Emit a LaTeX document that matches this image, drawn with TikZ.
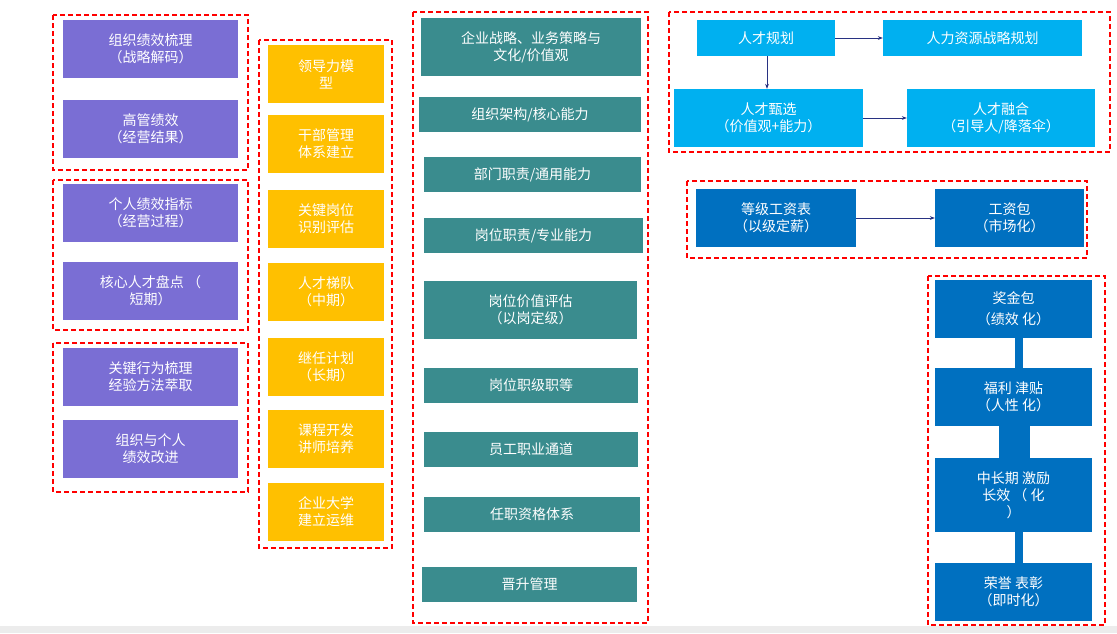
\documentclass[tikz,border=0pt]{standalone}
\usepackage{fontspec}
\setmainfont{Noto Sans CJK SC}
\usetikzlibrary{arrows.meta}
\definecolor{purp}{RGB}{122,110,212}
\definecolor{yell}{RGB}{255,192,0}
\definecolor{teal2}{RGB}{58,140,142}
\definecolor{cyan2}{RGB}{0,176,240}
\definecolor{blue2}{RGB}{0,112,192}
\definecolor{arr}{RGB}{40,50,130}
\tikzset{
  box/.style={inner sep=0pt, align=center, font=\fontsize{14}{17}\selectfont},
  pbox/.style={box, fill=purp, text=white},
  ybox/.style={box, fill=yell, text=white},
  tbox/.style={box, fill=teal2, text=white},
  cbox/.style={box, fill=cyan2, text=white},
  bbox/.style={box, fill=blue2, text=white},
  frame/.style={draw=red, dashed, line width=1.6pt, dash pattern=on 5pt off 3pt},
  link/.style={-{Stealth[length=5pt]}, arr, line width=0.6pt}
}
% x0,y0,x1,y1 in pixels
\newcommand{\bx}[6]{\node[#1, minimum width=#4-#2, minimum height=#5-#3] (#6) at ({(#2+#4)/2},{(#3+#5)/2})}
\begin{document}
\begin{tikzpicture}[x=1pt,y=-1pt]
    \useasboundingbox (0,0) rectangle (1117,633);
    \fill[gray!15] (0,626) rectangle (1117,633);

    % column 1
    \bx{pbox}{63}{20}{238}{78}{p1} {组织绩效梳理\\（战略解码）};
    \bx{pbox}{63}{100}{238}{158}{p2} {高管绩效\\（经营结果）};
    \bx{pbox}{63}{184}{238}{242}{p3} {个人绩效指标\\（经营过程）};
    \bx{pbox}{63}{262}{238}{320}{p4} {核心人才盘点 （\\短期）};
    \bx{pbox}{63}{348}{238}{406}{p5} {关键行为梳理\\经验方法萃取};
    \bx{pbox}{63}{420}{238}{478}{p6} {组织与个人\\绩效改进};
    \draw[frame] (53,15) rectangle (248,170);
    \draw[frame] (53,180) rectangle (248,330);
    \draw[frame] (53,343) rectangle (248,492);

    % column 2
    \bx{ybox}{268}{45}{384}{103}{y1} {领导力模\\型};
    \bx{ybox}{268}{115}{384}{173}{y2} {干部管理\\体系建立};
    \bx{ybox}{268}{190}{384}{248}{y3} {关键岗位\\识别评估};
    \bx{ybox}{268}{263}{384}{321}{y4} {人才梯队\\（中期）};
    \bx{ybox}{268}{338}{384}{396}{y5} {继任计划\\（长期）};
    \bx{ybox}{268}{410}{384}{468}{y6} {课程开发\\讲师培养};
    \bx{ybox}{268}{483}{384}{541}{y7} {企业大学\\建立运维};
    \draw[frame] (259,40) rectangle (392,548);

    % column 3
    \bx{tbox}{421}{18}{641}{76}{t1} {企业战略、业务策略与\\文化/价值观};
    \bx{tbox}{419}{97}{641}{132}{t2} {组织架构/核心能力};
    \bx{tbox}{424}{157}{641}{192}{t3} {部门职责/通用能力};
    \bx{tbox}{424}{218}{643}{253}{t4} {岗位职责/专业能力};
    \bx{tbox}{424}{281}{637}{339}{t5} {岗位价值评估\\（以岗定级）};
    \bx{tbox}{424}{368}{638}{403}{t6} {岗位职级职等};
    \bx{tbox}{424}{432}{638}{467}{t7} {员工职业通道};
    \bx{tbox}{424}{497}{640}{532}{t8} {任职资格体系};
    \bx{tbox}{422}{567}{637}{602}{t9} {晋升管理};
    \draw[frame] (413,12) rectangle (648,623);

    % talent
    \bx{cbox}{697}{20}{835}{56}{c1} {人才规划};
    \bx{cbox}{883}{20}{1082}{56}{c2} {人力资源战略规划};
    \bx{cbox}{674}{89}{863}{147}{c3} {人才甄选\\（价值观+能力）};
    \bx{cbox}{907}{89}{1095}{147}{c4} {人才融合\\（引导人/降落伞）};
    \draw[frame] (669,12) rectangle (1110,152);
    \draw[link] (c1) -- (c2);
    \draw[link] (c1.south -| 767,0) -- (c3.north -| 767,0);
    \draw[link] (c3) -- (c4);

    % pay
    \bx{bbox}{696}{189}{856}{247}{b1} {等级工资表\\（以级定薪）};
    \bx{bbox}{935}{189}{1084}{247}{b2} {工资包\\（市场化）};
    \draw[frame] (687,181) rectangle (1087,258);
    \draw[link] (b1) -- (b2);

    % incentives
    \bx{bbox}{935}{280}{1092}{338}{i1} {奖金包\\[4pt]（绩效 化）};
    \bx{bbox}{935}{368}{1092}{426}{i2} {福利 津贴\\（人性 化）};
    \bx{bbox}{935}{458}{1092}{532}{i3} {中长期 激励\\长效 （ 化\\）};
    \bx{bbox}{935}{563}{1092}{621}{i4} {荣誉 表彰\\（即时化）};
    \draw[blue2, line width=8pt] (i1.south -| 1019,0) -- (i2.north -| 1019,0);
    \fill[blue2] (999,426) rectangle (1030,458);
    \draw[blue2, line width=8pt] (i3.south -| 1019,0) -- (i4.north -| 1019,0);
    \draw[frame] (928,276) rectangle (1105,625);
\end{tikzpicture}
\end{document}
